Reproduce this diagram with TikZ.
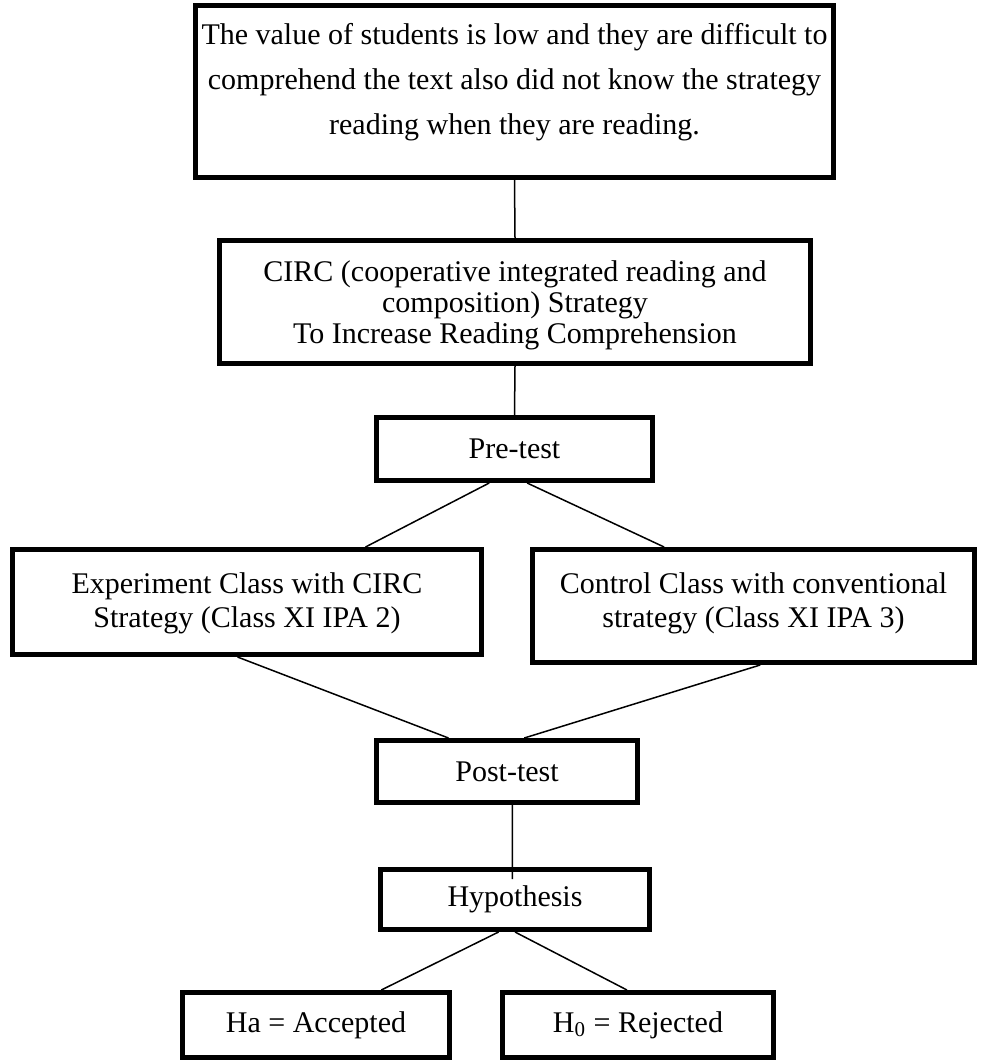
\documentclass[tikz,border=0pt]{standalone}
\usepackage{fontspec}
\setmainfont{Liberation Serif}
\usetikzlibrary{calc}
\begin{document}
\begin{tikzpicture}[x=0.5pt,y=-0.5pt,
  box/.style={draw, line width=2.5pt, rectangle, inner sep=0pt, align=center,
    font=\fontsize{15}{17}\selectfont},
  txt/.style={inner sep=0pt, align=center, font=\fontsize{15}{17}\selectfont},
  link/.style={line width=0.75pt}]
\useasboundingbox (0,0) rectangle (990,1064);
% boxes
\node[box, minimum width=319pt, minimum height=86pt] (prob) at (514.5,91.5) {};
\node[txt, font=\fontsize{15}{22.5}\selectfont] (probt) at (514.5,82)
  {The value of students is low and they are difficult to\\
   comprehend the text also did not know the strategy\\
   reading when they are reading.};
\node[box, minimum width=295.5pt, minimum height=61.5pt] (circ) at (515,302) {};
\node[txt, font=\fontsize{15}{15.5}\selectfont] (circt) at (515,305)
  {CIRC (cooperative integrated reading and\\
   composition) Strategy\\
   To Increase Reading Comprehension};
\node[box, minimum width=138pt, minimum height=31.5pt] (pre) at (514.5,449) {Pre-test};
\node[box, minimum width=234.5pt, minimum height=52.5pt] (exp) at (247,602) {};
\node[txt] (expt) at (247,603) {Experiment Class with CIRC\\Strategy (Class XI IPA 2)};
\node[box, minimum width=221pt, minimum height=56.5pt] (ctl) at (753.5,606) {};
\node[txt] (ctlt) at (753.5,603) {Control Class with conventional\\strategy (Class XI IPA 3)};
\node[box, minimum width=130.5pt, minimum height=31pt] (post) at (507,771.5) {Post-test};
\node[box, minimum width=134.5pt, minimum height=30pt] (hyp) at (515,899.5) {Hypothesis};
\node[box, minimum width=133.5pt, minimum height=32.5pt] (ha) at (316,1025) {Ha = Accepted};
\node[box, minimum width=135.5pt, minimum height=32.5pt] (hn) at (638,1025) {H\textsubscript{0} = Rejected};
% connectors
\draw[link] (prob.south) -- (circ.north);
\draw[link] (circ.south) -- (pre.north);
\draw[link] ($(pre.south west)!0.41!(pre.south east)$) -- ($(exp.north west)!0.75!(exp.north east)$);
\draw[link] ($(pre.south west)!0.545!(pre.south east)$) -- ($(ctl.north west)!0.30!(ctl.north east)$);
\draw[link] ($(exp.south west)!0.48!(exp.south east)$) -- ($(post.north west)!0.28!(post.north east)$);
\draw[link] ($(ctl.south west)!0.515!(ctl.south east)$) -- ($(post.north west)!0.565!(post.north east)$);
\draw[link] ($(post.south west)!0.52!(post.south east)$) -- ($(hyp.north west)!0.49!(hyp.north east)+(0,12)$);
\draw[link] ($(hyp.south west)!0.44!(hyp.south east)$) -- ($(ha.north west)!0.74!(ha.north east)$);
\draw[link] ($(hyp.south west)!0.5!(hyp.south east)$) -- ($(hn.north west)!0.46!(hn.north east)$);
\end{tikzpicture}
\end{document}
